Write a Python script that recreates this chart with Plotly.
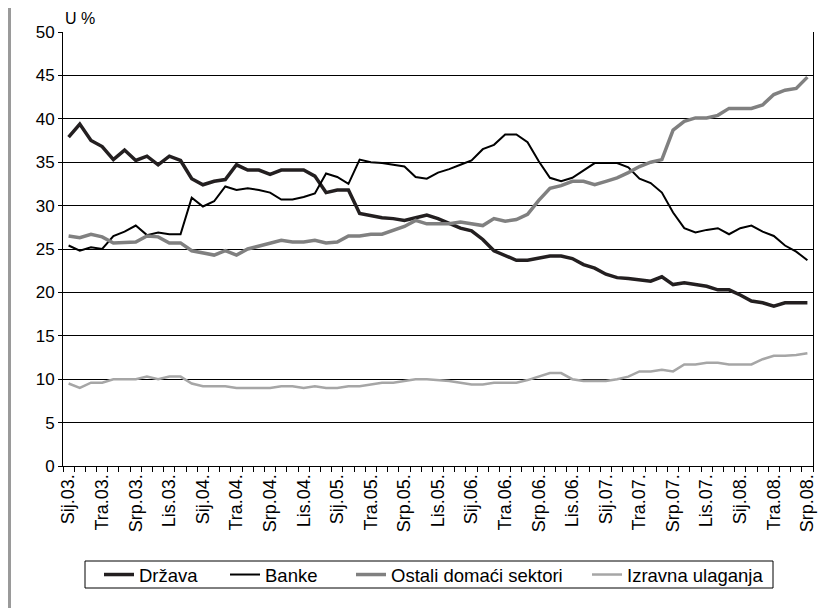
import plotly.graph_objects as go

# ---- data ----
month_names = ["Sij", "Velj", "Ožu", "Tra", "Svi", "Lip", "Srp", "Kol", "Ruj", "Lis", "Stu", "Pro"]
years = ["03", "04", "05", "06", "07", "08"]
categories = [f"{m}.{y}." for y in years for m in month_names][:67]
tick_labels = categories[::3]

drzava = [37.9, 39.4, 37.5, 36.8, 35.3, 36.4, 35.2, 35.7, 34.7, 35.7, 35.2, 33.1, 32.4, 32.8, 33.0, 34.7,
          34.1, 34.1, 33.6, 34.1, 34.1, 34.1, 33.4, 31.5, 31.8, 31.8, 29.1, 28.8, 28.6, 28.5, 28.3, 28.6, 28.9, 28.5,
          28.0, 27.4, 27.1, 26.1, 24.8, 24.2, 23.7, 23.7, 23.9, 24.2, 24.2, 23.9, 23.2, 22.8, 22.1, 21.7,
          21.6, 21.5, 21.3, 21.8, 20.9, 21.1, 20.9, 20.7, 20.3, 20.3, 19.7, 19.0, 18.8, 18.4, 18.8, 18.8, 18.8]
banke = [25.4, 24.8, 25.2, 25.0, 26.5, 27.0, 27.7, 26.6, 26.9, 26.7, 26.7, 30.9, 29.9, 30.5, 32.2, 31.8, 32.0,
         31.8, 31.5, 30.7, 30.7, 31.0, 31.4, 33.7, 33.3, 32.5, 35.3, 35.0, 34.9, 34.7, 34.5, 33.3, 33.1, 33.8,
         34.2, 34.7, 35.2, 36.5, 37.0, 38.2, 38.2, 37.3, 35.1, 33.2, 32.8, 33.2, 34.1, 34.9, 34.9, 34.9, 34.4,
         33.1, 32.6, 31.5, 29.2, 27.4, 26.9, 27.2, 27.4, 26.7, 27.4, 27.7, 27.0, 26.5, 25.4, 24.7, 23.7]
ostali = [26.5, 26.3, 26.7, 26.4, 25.7, 25.8, 25.8, 26.5, 26.4, 25.7, 25.7, 24.8, 24.6, 24.3, 24.8, 24.3, 25.0,
          25.3, 25.7, 26.0, 25.8, 25.8, 26.0, 25.7, 25.8, 26.5, 26.5, 26.7, 26.7, 27.1, 27.6, 28.3, 27.9, 27.9,
          27.9, 28.1, 27.9, 27.7, 28.5, 28.2, 28.4, 29.0, 30.6, 32.0, 32.3, 32.8, 32.8, 32.4, 32.8, 33.2, 33.8,
          34.5, 35.0, 35.3, 38.7, 39.7, 40.1, 40.1, 40.4, 41.2, 41.2, 41.2, 41.6, 42.8, 43.3, 43.5, 44.8]
izravna = [9.5, 9.0, 9.6, 9.6, 10.0, 10.0, 10.0, 10.3, 10.0, 10.3, 10.3, 9.5, 9.2, 9.2, 9.2, 9.0, 9.0,
           9.0, 9.0, 9.2, 9.2, 9.0, 9.2, 9.0, 9.0, 9.2, 9.2, 9.4, 9.6, 9.6, 9.8, 10.0, 10.0, 9.9,
           9.8, 9.6, 9.4, 9.4, 9.6, 9.6, 9.6, 9.9, 10.3, 10.7, 10.7, 10.0, 9.8, 9.8, 9.8, 10.0, 10.3,
           10.9, 10.9, 11.1, 10.9, 11.7, 11.7, 11.9, 11.9, 11.7, 11.7, 11.7, 12.3, 12.7, 12.7, 12.8, 13.0]

series_names = ["Država", "Banke", "Ostali domaći sektori", "Izravna ulaganja"]
series_values = [drzava, banke, ostali, izravna]
series_colors = ["#231f20", "#000000", "#808080", "#a6a6a6"]
series_widths = [3.5, 2, 3.5, 2.5]

# ---- geometry (page has an 8px body margin) ----
W, H = 821, 600
ML, MR, MT, MB = 55, 16, 24, 142
PW, PH = W - ML - MR, H - MT - MB


def px(screen_x):
    return (screen_x - 8 - ML) / PW


def py(screen_y):
    return (H - MB + 8 - screen_y) / PH


legend_ids = ["legend", "legend2", "legend3", "legend4"]
legend_line_starts = [106, 232, 358, 594]

x_idx = list(range(len(categories)))
font_family = "Arial, Liberation Sans, sans-serif"

fig = go.Figure()
for name, vals, color, width, lid in zip(series_names, series_values, series_colors, series_widths, legend_ids):
    fig.add_trace(go.Scatter(
        x=x_idx, y=vals, name=name, mode="lines",
        line=dict(color=color, width=width),
        customdata=categories, legend=lid,
        hovertemplate="%{customdata}: %{y}<extra>" + name + "</extra>",
    ))

legend_cfg = {}
for lid, sx in zip(legend_ids, legend_line_starts):
    legend_cfg[lid] = dict(
        orientation="h", x=px(sx - 7), xanchor="left", y=py(575), yanchor="middle",
        borderwidth=0, bgcolor="rgba(0,0,0,0)", font=dict(size=18.5, family=font_family, color="black"),
    )

fig.update_layout(
    width=W, height=H,
    margin=dict(l=ML, r=MR, t=MT, b=MB, autoexpand=False),
    paper_bgcolor="white", plot_bgcolor="white",
    font=dict(family=font_family, size=17, color="black"),
    showlegend=True,
    xaxis=dict(
        range=[-0.5, len(categories) - 0.5],
        tickmode="array", tickvals=x_idx[::3], ticktext=tick_labels,
        tickangle=-90, tickfont=dict(size=18),
        ticks="", showgrid=False, zeroline=False,
        showline=True, linecolor="black", linewidth=1,
        minor=dict(ticks="outside", tick0=-0.5, dtick=1, ticklen=5, tickcolor="black", showgrid=False),
    ),
    yaxis=dict(
        range=[0, 50], dtick=5, tick0=0,
        showgrid=True, gridcolor="black", gridwidth=1,
        zeroline=False, showline=True, linecolor="black", linewidth=1, mirror=True,
        ticks="outside", ticklen=4, tickcolor="black",
        tickfont=dict(size=17),
    ),
    annotations=[dict(
        text="U %", xref="paper", yref="paper", x=px(63), y=py(29), xanchor="left", yanchor="bottom",
        showarrow=False, font=dict(size=16),
    )],
    shapes=[
        dict(type="line", xref="paper", yref="paper", x0=px(9), x1=px(9), y0=py(610), y1=py(-2),
             line=dict(color="#9a9a9a", width=4)),
        dict(type="rect", xref="paper", yref="paper", x0=px(85), x1=px(773), y0=py(588), y1=py(561),
             line=dict(color="black", width=1), fillcolor="rgba(0,0,0,0)"),
    ],
    **legend_cfg,
)

fig.write_html("out.html")
